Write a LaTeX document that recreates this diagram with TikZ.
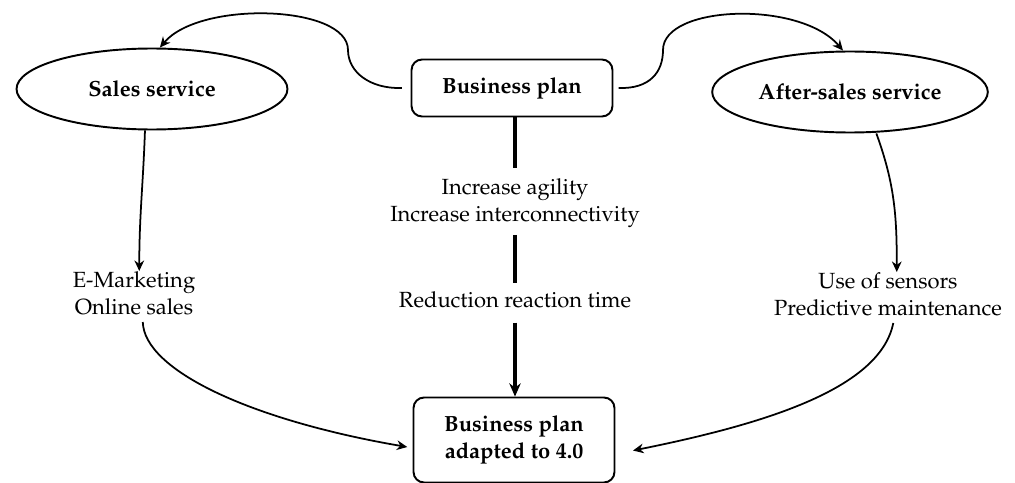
\documentclass[tikz,border=0pt]{standalone}
\usepackage[T1]{fontenc}
\usepackage{mathpazo}
\usepackage{tikz}
\usetikzlibrary{arrows.meta,shapes.geometric}
\newcommand{\figfont}{\fontsize{12.5}{15.3}\selectfont}

\begin{document}
\begin{tikzpicture}[x=0.02cm, y=-0.02cm,
  serv/.style={ellipse, draw, line width=1.1pt, minimum width=5.42cm, minimum height=1.62cm, font=\figfont\bfseries},
  plan/.style={rectangle, rounded corners=6pt, draw, line width=1.1pt, minimum width=4.02cm, align=center, font=\figfont\bfseries},
  txt/.style={align=center, inner sep=0pt, font=\figfont},
  link/.style={line width=1pt, -{Stealth[length=6pt, width=5.5pt]}},
  spine/.style={line width=2pt}]
\useasboundingbox (0,0) rectangle (1015,483);

\node[serv] (sales) at (152,89) {Sales service};
\node[plan, minimum height=1.14cm] (bp) at (512,88) {Business plan};
\node[serv] (aft) at (850,92) {After-sales service};
\node[txt] (agil) at (515,203) {Increase agility\\Increase interconnectivity};
\node[txt] (react) at (515,300) {Reduction reaction time};
\node[txt] (emk) at (134,293) {E-Marketing\\Online sales};
\node[txt] (sens) at (888,294) {Use of sensors\\Predictive maintenance};
\node[plan, minimum height=1.7cm] (bpa) at (514,440) {Business plan\\adapted to 4.0};

\draw[link] ([xshift=-5pt]bp.west) .. controls (370,89) and (348,72) .. (348,50)
  .. controls (348,5) and (200,0) .. ([xshift=4.5pt]sales.north);
\draw[link] ([xshift=3pt]bp.east) .. controls (650,89) and (663,72) .. (663,50)
  .. controls (663,5) and (800,0) .. ([xshift=-4pt]aft.north);

\draw[spine, shorten >=6pt] (bp.south -| agil.north) -- (agil.north);
\draw[spine, shorten <=4pt, shorten >=5pt] (agil.south) -- (react.north);
\draw[spine, -{Stealth[length=7.5pt, width=6.5pt]}, shorten <=8pt] (react.south) -- (bpa.north -| react.south);

\draw[link] ([xshift=-4pt]sales.south) to[out=-92, in=90] ([xshift=3pt]emk.north);
\draw[link] ([xshift=15pt]aft.south) to[out=-70, in=90] ([xshift=5pt]sens.north);
\draw[link] ([xshift=5pt, yshift=-4pt]emk.south) .. controls (144,370) and (250,420) .. ([xshift=-3pt, yshift=-4pt]bpa.west);
\draw[link] ([xshift=3pt, yshift=-4pt]sens.south) .. controls (880,390) and (760,425) .. ([xshift=10pt, yshift=-6pt]bpa.east);
\end{tikzpicture}
\end{document}
